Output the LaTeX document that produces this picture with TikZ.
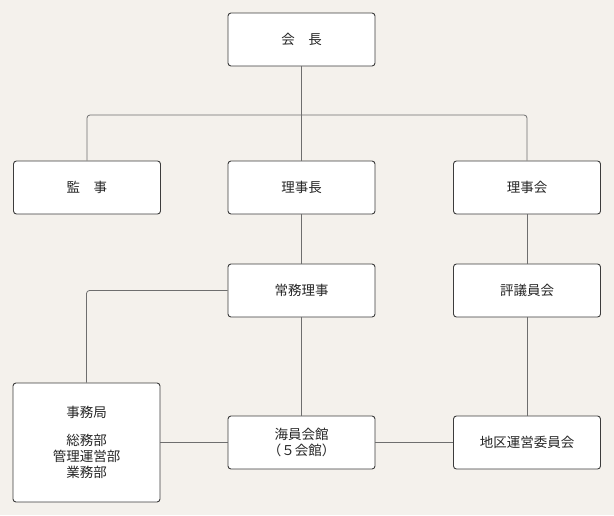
\documentclass[tikz,border=0pt]{standalone}
\usepackage{fontspec}
\setmainfont{Noto Sans CJK JP}
\definecolor{bgcolor}{HTML}{F4F1EC}
\definecolor{boxline}{HTML}{3C3C3C}
\definecolor{linkline}{HTML}{6E6E6E}
\begin{document}
\begin{tikzpicture}
      [x=1pt, y=-1pt,
       box/.style={draw=boxline, fill=white, line width=0.9pt, rounded corners=3pt,
         minimum width=147pt, minimum height=53pt, inner sep=0pt, align=center,
         font=\fontsize{13.5}{16}\selectfont, text=black!85},
       link/.style={draw=linkline, line width=0.8pt}]
      \fill[bgcolor] (0, 0) rectangle (614, 515);
      \useasboundingbox (0, 0) rectangle (614, 515);

      % top row
      \node[box] (kaicho) at (301.5, 39.5) {会　長};

      % second row
      \node[box] (kansa) at (87.0, 187.5) {監　事};
      \node[box] (rijicho) at (301.5, 187.5) {理事長};
      \node[box] (rijikai) at (527.0, 187.5) {理事会};

      % third row
      \node[box] (jomu) at (301.5, 290.5) {常務理事};
      \node[box] (hyogi) at (527.0, 290.5) {評議員会};

      % bottom row
      \node[box, minimum height=119pt] (jimu) at (86.5, 442.5)
      {事務局\\[12.5pt]総務部\\管理運営部\\業務部};
      \node[box] (kaikan) at (301.5, 442.5) {海員会館\\（５会館）};
      \node[box] (chiku) at (527.0, 442.5) {地区運営委員会};

      \coordinate (branch) at (301.5, 115.0);

      % connections
      \draw[link] (kaicho.south) -- (rijicho.north);
      \draw[link, rounded corners=3pt] (kansa.north) |- (branch) -| (rijikai.north);
      \draw[link] (rijicho.south) -- (jomu.north);
      \draw[link] (jomu.south) -- (kaikan.north);
      \draw[link] (rijikai.south) -- (hyogi.north);
      \draw[link] (hyogi.south) -- (chiku.north);
      \draw[link, rounded corners=3pt] (jomu.west) -| (jimu.north);
      \draw[link] (jimu.east) -- (kaikan.west);
      \draw[link] (kaikan.east) -- (chiku.west);
    \end{tikzpicture}
\end{document}
